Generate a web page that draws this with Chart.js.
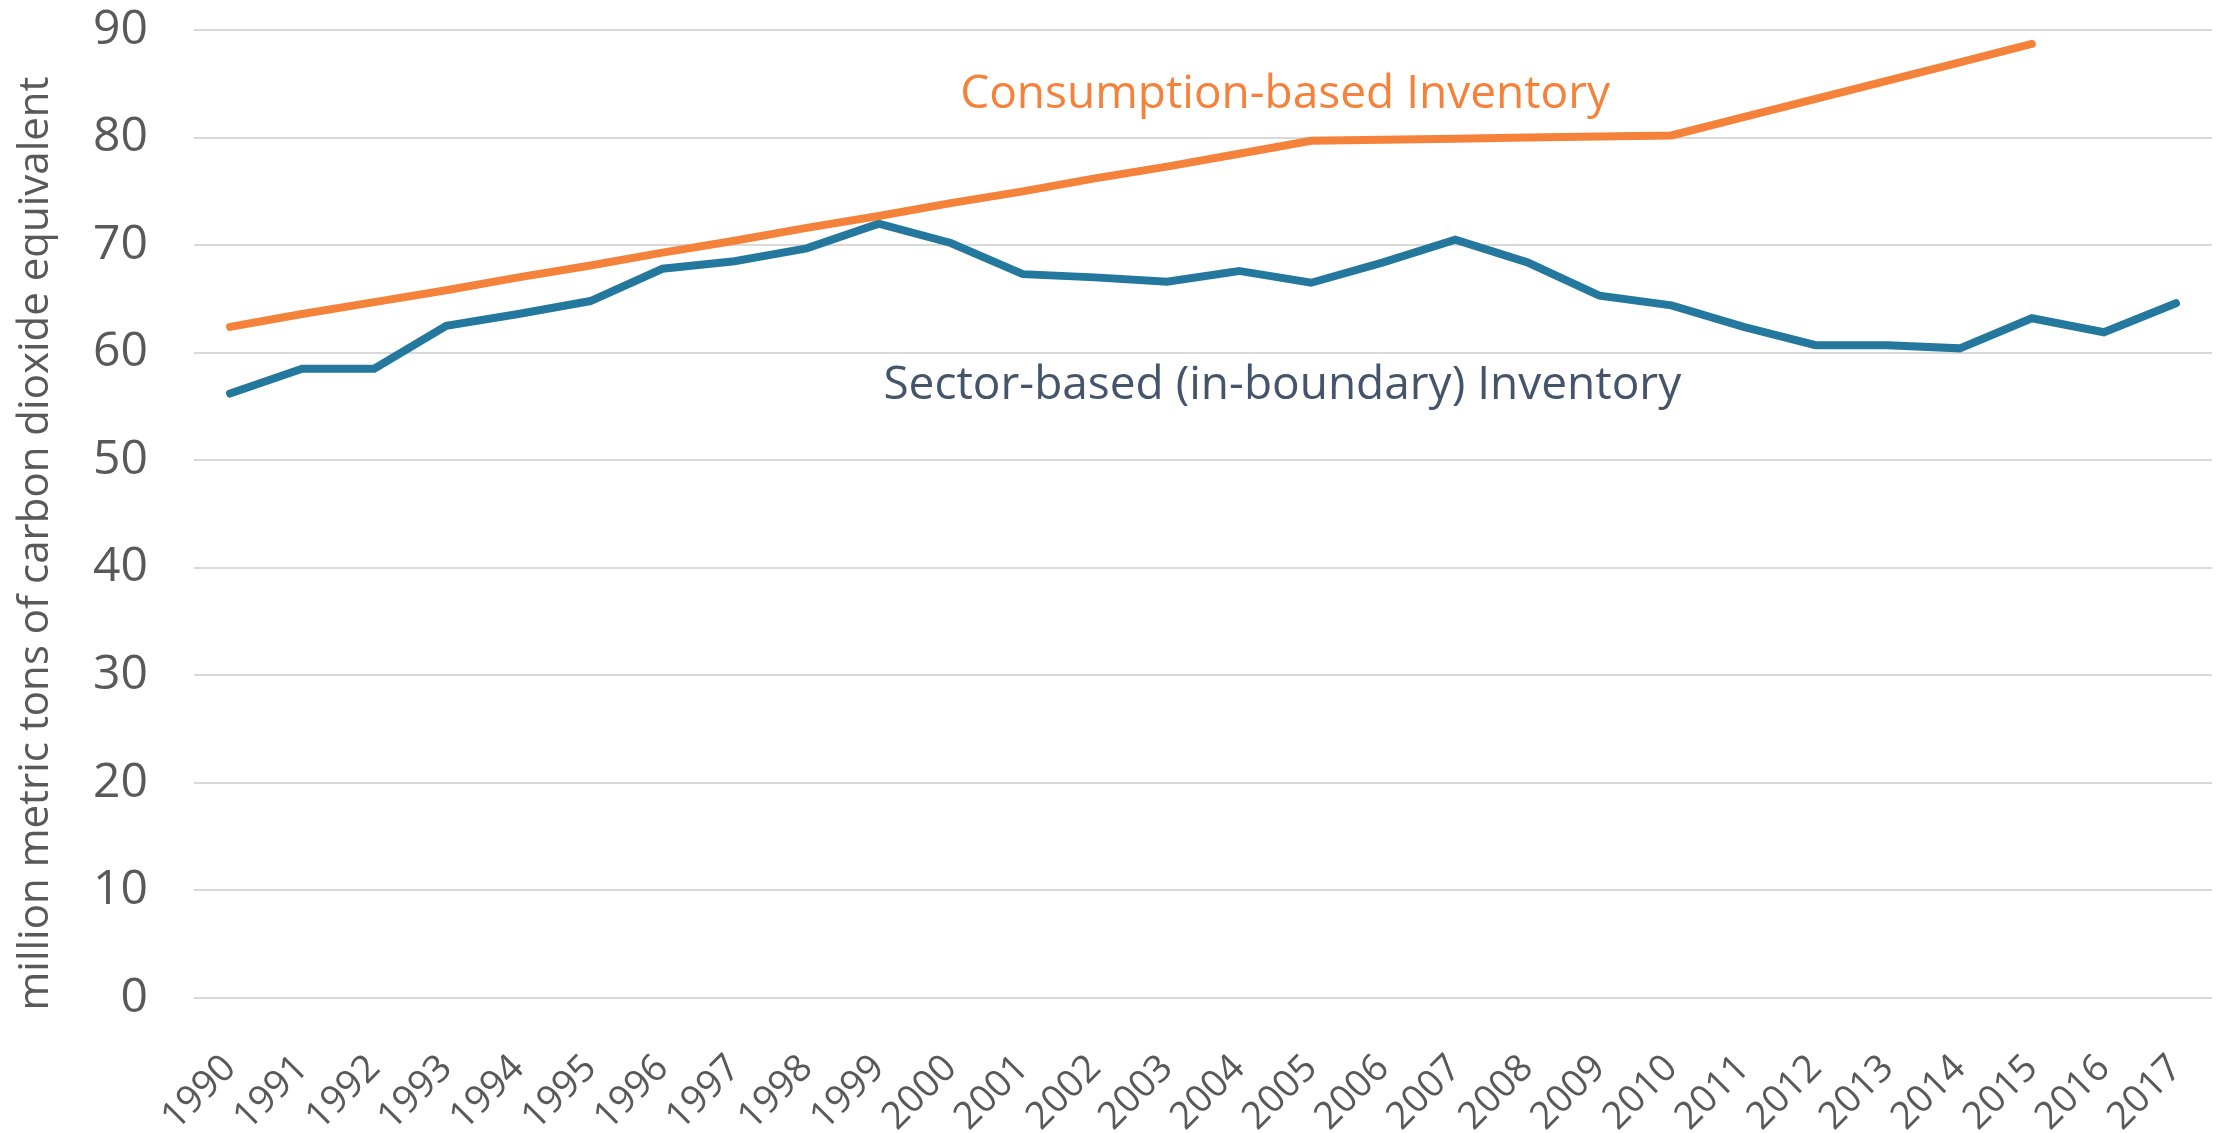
<!doctype html>
<html lang="en">

<head>
    <meta charset="utf-8">
    <title>Consumption vs Sector-based Inventory</title>
    <script src="https://cdn.jsdelivr.net/npm/chart.js"></script>
    <style>
        html, body {
            margin: 0;
            padding: 0;
            background: #fff;
        }
    </style>
</head>

<body>
    <canvas id="linechart" width="2226" height="1133"></canvas>

    <script>
        // data
        const years = ['1990', '1991', '1992', '1993', '1994', '1995', '1996', '1997', '1998', '1999',
            '2000', '2001', '2002', '2003', '2004', '2005', '2006', '2007', '2008', '2009',
            '2010', '2011', '2012', '2013', '2014', '2015', '2016', '2017'];
        const consumptionBased = [62.4, 63.6, 64.7, 65.8, 67.0, 68.1, 69.3, 70.4, 71.6, 72.7,
            73.9, 75.0, 76.2, 77.3, 78.5, 79.7, 79.8, 79.9, 80.0, 80.1,
            80.2, 81.9, 83.6, 85.3, 87.0, 88.7, null, null];
        const sectorBased = [56.2, 58.5, 58.5, 62.5, 63.6, 64.8, 67.8, 68.5, 69.7, 72.0,
            70.2, 67.3, 67.0, 66.6, 67.6, 66.5, 68.4, 70.5, 68.4, 65.3,
            64.4, 62.4, 60.7, 60.7, 60.4, 63.2, 61.9, 64.6];
        const yTicks = [0, 10, 20, 30, 40, 50, 60, 70, 80, 90];
        const seriesNames = ['Consumption-based Inventory', 'Sector-based (in-boundary) Inventory'];
        const yTitle = 'million metric tons of carbon dioxide equivalent';

        const orange = '#F5823A';
        const blue = '#24789D';
        const grey = '#595959';

        // series labels inside the plot + the y axis title (sits a bit lower than the plot centre)
        const chartTexts = {
            id: 'chartTexts',
            afterDatasetsDraw(chart) {
                const c = chart.ctx;
                const xs = chart.scales.x;
                const ys = chart.scales.y;
                c.save();
                c.font = '46px "Open Sans"';
                c.textAlign = 'center';
                c.textBaseline = 'middle';
                c.fillStyle = orange;
                c.fillText(seriesNames[0], xs.getPixelForValue(14.64), ys.getPixelForValue(84.0));
                c.fillStyle = '#44546A';
                c.fillText(seriesNames[1], xs.getPixelForValue(14.6), ys.getPixelForValue(56.9));

                c.translate(36, (ys.top + chart.height) / 2 - 38);
                c.rotate(-Math.PI / 2);
                c.font = '42px "Open Sans"';
                c.fillStyle = grey;
                c.fillText(yTitle, 0, 0);
                c.restore();
            }
        };

        let ctx = document.querySelector('#linechart').getContext('2d');
        let chart = new Chart(ctx, {
            type: 'line',
            data: {
                labels: years,
                datasets: [{
                    label: seriesNames[0],
                    data: consumptionBased,
                    borderColor: orange,
                    backgroundColor: orange,
                    borderWidth: 8,
                    pointRadius: 0,
                    tension: 0,
                    borderCapStyle: 'round',
                    spanGaps: false
                }, {
                    label: seriesNames[1],
                    data: sectorBased,
                    borderColor: blue,
                    backgroundColor: blue,
                    borderWidth: 8,
                    pointRadius: 0,
                    tension: 0,
                    borderCapStyle: 'round'
                }]
            },
            options: {
                responsive: false,
                animation: false,
                layout: {
                    padding: { top: 30, right: 14, left: 10, bottom: 0 }
                },
                plugins: {
                    legend: { display: false },
                    tooltip: { enabled: false }
                },
                scales: {
                    x: {
                        offset: true,
                        grid: { display: false },
                        border: { display: false },
                        afterFit: (scale) => {
                            scale.height = 135;
                            scale.paddingRight = 0;
                            scale.paddingLeft = 0;
                        },
                        ticks: {
                            color: grey,
                            font: { family: 'Open Sans', size: 38 },
                            minRotation: 45,
                            maxRotation: 45,
                            autoSkip: false,
                            padding: 40
                        }
                    },
                    y: {
                        min: 0,
                        max: 90,
                        afterBuildTicks: (scale) => {
                            scale.ticks = yTicks.map(v => ({ value: v }));
                        },
                        afterFit: (scale) => {
                            scale.width = 184;
                            scale.paddingTop = 0;
                        },
                        grid: {
                            color: '#D9D9D9',
                            lineWidth: 2,
                            drawTicks: false
                        },
                        border: { display: false },
                        ticks: {
                            color: grey,
                            font: { family: 'Open Sans', size: 48 },
                            padding: 46
                        }
                    }
                }
            },
            plugins: [chartTexts]
        });
    </script>

</body>

</html>
